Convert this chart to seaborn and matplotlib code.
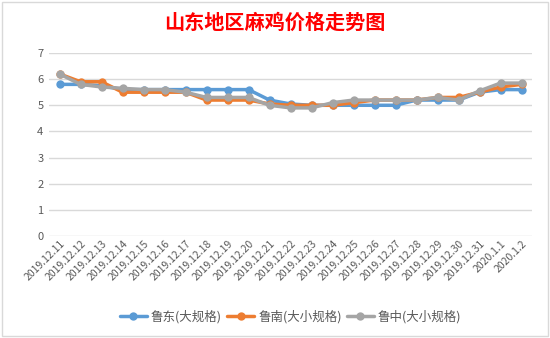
import matplotlib
matplotlib.use("Agg")
import matplotlib.pyplot as plt
import seaborn as sns
import pandas as pd
from matplotlib.patches import Rectangle

dates = ["2019.12.11", "2019.12.12", "2019.12.13", "2019.12.14", "2019.12.15", "2019.12.16",
         "2019.12.17", "2019.12.18", "2019.12.19", "2019.12.20", "2019.12.21", "2019.12.22",
         "2019.12.23", "2019.12.24", "2019.12.25", "2019.12.26", "2019.12.27", "2019.12.28",
         "2019.12.29", "2019.12.30", "2019.12.31", "2020.1.1", "2020.1.2"]
ludong = [5.8, 5.8, 5.75, 5.6, 5.6, 5.6, 5.6, 5.6, 5.6, 5.6, 5.2, 5.05, 5.0, 5.0, 5.0, 5.0,
          5.0, 5.2, 5.2, 5.2, 5.5, 5.6, 5.6]
lunan = [6.2, 5.9, 5.9, 5.5, 5.5, 5.5, 5.5, 5.2, 5.2, 5.2, 5.05, 5.0, 5.0, 5.0, 5.1, 5.2,
         5.2, 5.2, 5.3, 5.3, 5.5, 5.7, 5.8]
luzhong = [6.2, 5.8, 5.7, 5.65, 5.6, 5.6, 5.5, 5.3, 5.3, 5.3, 5.0, 4.9, 4.9, 5.1, 5.2, 5.2,
           5.2, 5.2, 5.3, 5.2, 5.55, 5.85, 5.85]
series_names = ["鲁东(大规格)", "鲁南(大小规格)", "鲁中(大小规格)"]
title = "山东地区麻鸡价格走势图"

rows = []
for name, vals in zip(series_names, [ludong, lunan, luzhong]):
    for i, v in enumerate(vals):
        rows.append({"idx": i, "price": v, "series": name})
df = pd.DataFrame(rows)

sns.set_theme(style="white")
plt.rcParams['font.family'] = ['Noto Sans CJK SC', 'DejaVu Sans']

fig = plt.figure(figsize=(5.5, 3.38), dpi=100)
ax = fig.add_axes([49/550, 1-236/338, (532-49)/550, (236-53)/338])

palette = ["#5B9BD5", "#ED7D31", "#A5A5A5"]
sns.lineplot(data=df, x="idx", y="price", hue="series", hue_order=series_names,
             palette=palette, marker="o", markersize=6, markeredgewidth=0,
             linewidth=2.5, ax=ax, legend=True)

ax.set_xlim(-0.5, len(dates) - 0.5)
ax.set_ylim(0, 7)
ax.set_yticks(range(0, 8))
ax.set_yticklabels([str(i) for i in range(0, 8)], fontsize=8, color="#595959")
ax.set_xticks(range(len(dates)))
ax.set_xticklabels(dates, rotation=45, ha="right", rotation_mode="anchor",
                   fontsize=7.5, color="#595959")
ax.tick_params(axis="both", length=0, pad=4)
ax.tick_params(axis="x", pad=2)
ax.set_xlabel("")
ax.set_ylabel("")
ax.grid(axis="y", color="#D9D9D9", linewidth=1)
ax.set_axisbelow(True)
for s in ax.spines.values():
    s.set_visible(False)

handles, labels = ax.get_legend_handles_labels()
ax.legend(handles, labels, loc="center", bbox_to_anchor=(0.5, -0.44), ncol=3,
          frameon=False, fontsize=9, handlelength=2.2, columnspacing=0.4,
          handletextpad=0.3, labelcolor="#595959")

fig.text(0.5, 1-22/338, title, ha="center", va="center", color="#FF0000",
         fontsize=14.5, fontweight="bold")

fig.patches.append(Rectangle((0.004, 0.006), 0.992, 0.988, transform=fig.transFigure,
                             fill=False, edgecolor="#D9D9D9", linewidth=1))

fig.savefig("out.png", dpi=100)
